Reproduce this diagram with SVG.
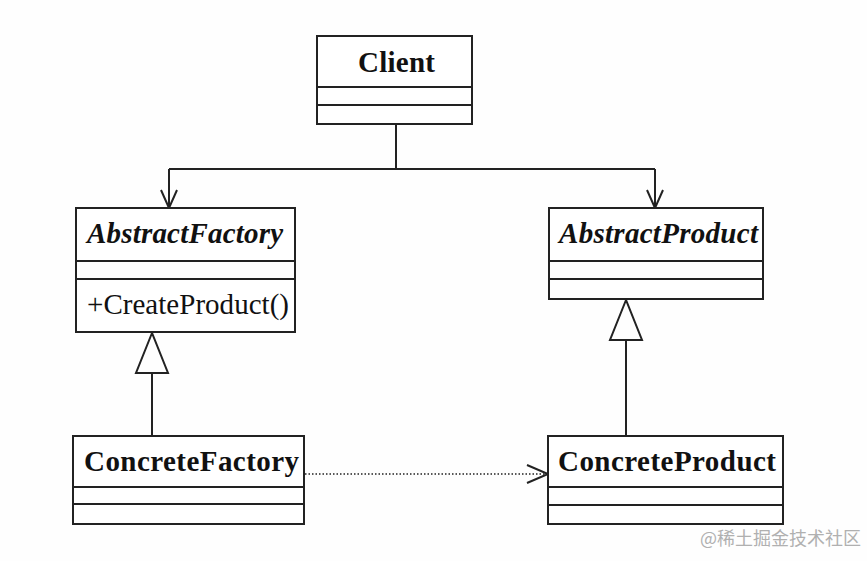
<svg xmlns="http://www.w3.org/2000/svg" width="867" height="561" viewBox="0 0 867 561">
<style>
.box{fill:#fff;stroke:#222;stroke-width:2}
.div{stroke:#222;stroke-width:2}
.t{font-family:"Liberation Serif","Times New Roman",serif;font-size:29px;fill:#111}
.b{font-weight:bold}
.i{font-style:italic}
.ln{fill:none;stroke:#222;stroke-width:2}
.dot{fill:none;stroke:#222;stroke-width:1.5;stroke-dasharray:1.5 2}
.wm{font-family:"Noto Sans CJK SC","Liberation Sans",sans-serif;font-size:18px;fill:#b0b0b0}
</style>
<rect width="867" height="561" fill="#fefefe"/>
<g id="connectors">
<path class="ln" d="M396,124 V169 M169,169 H655 M169,169 V208 M655,169 V208"/>
<path class="ln" d="M161,190 L169,208 L177,190 M647,190 L655,208 L663,190"/>
<path class="ln" d="M152,373 V436 M626,340 V436"/>
<polygon class="ln" points="152,333 136,373 168,373"/>
<polygon class="ln" points="626,300 610,340 642,340"/>
<path class="dot" d="M305,474 H546"/>
<path class="ln" d="M527,465 L548,474 L527,483"/>
</g>
<g id="client">
<rect class="box" x="317" y="36" width="155" height="88"/>
<path class="div" d="M317,87 H472 M317,105 H472"/>
<text class="t b" x="358" y="72" textLength="77" lengthAdjust="spacing">Client</text>
</g>
<g id="abstractFactory">
<rect class="box" x="76" y="208" width="219" height="124"/>
<path class="div" d="M76,261 H295 M76,279 H295"/>
<text class="t b i" x="87" y="243" textLength="196" lengthAdjust="spacing">AbstractFactory</text>
<text class="t" x="87" y="314" textLength="202" lengthAdjust="spacing">+CreateProduct()</text>
</g>
<g id="abstractProduct">
<rect class="box" x="549" y="208" width="214" height="91"/>
<path class="div" d="M549,261 H763 M549,279 H763"/>
<text class="t b i" x="559" y="243" textLength="199" lengthAdjust="spacing">AbstractProduct</text>
</g>
<g id="concreteFactory">
<rect class="box" x="73" y="436" width="231" height="88"/>
<path class="div" d="M73,487 H304 M73,504 H304"/>
<text class="t b" x="84" y="471" textLength="215" lengthAdjust="spacing">ConcreteFactory</text>
</g>
<g id="concreteProduct">
<rect class="box" x="548" y="436" width="235" height="88"/>
<path class="div" d="M548,487 H783 M548,505 H783"/>
<text class="t b" x="558" y="471" textLength="218" lengthAdjust="spacing">ConcreteProduct</text>
</g>
<text class="wm" x="700" y="545">@稀土掘金技术社区</text>
</svg>
